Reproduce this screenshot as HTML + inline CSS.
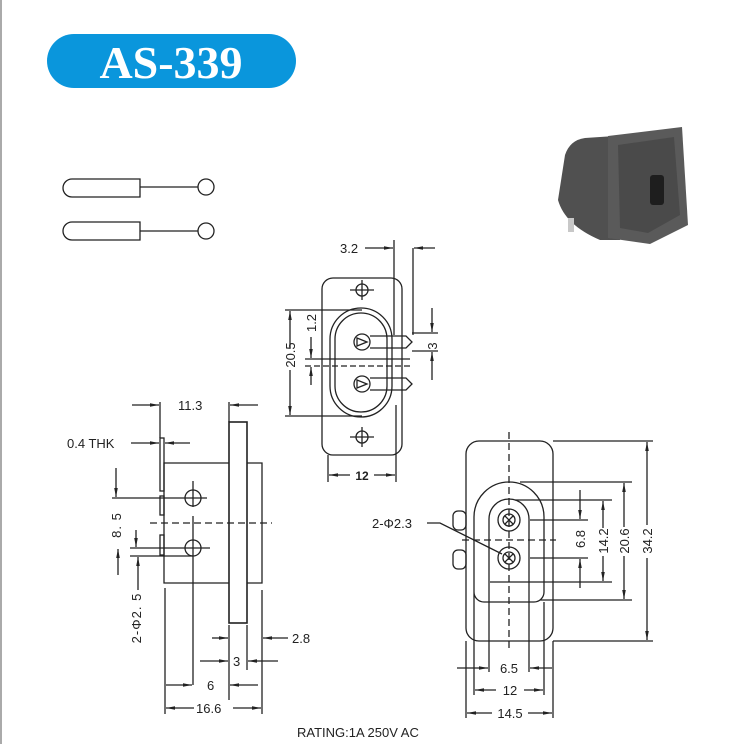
<!DOCTYPE html>
<html><head><style>
body{margin:0;background:#fff;}
svg{display:block;}
text{font-family:"Liberation Sans",sans-serif;font-size:13px;fill:#222;}
</style></head><body>
<svg width="735" height="744" viewBox="0 0 735 744" xmlns="http://www.w3.org/2000/svg">
<defs>
<marker id="a" viewBox="0 0 10 10" refX="10" refY="5" markerWidth="7" markerHeight="7" orient="auto-start-reverse"><path d="M0,3 L10,5 L0,7 z" fill="#222"/></marker>
</defs>
<line x1="1" y1="0" x2="1" y2="744" stroke="#aaa" stroke-width="2"/>
<!-- badge -->
<rect x="47" y="34" width="249" height="54" rx="27" fill="#0a96dc"/>
<text x="171" y="78" text-anchor="middle" style="font-family:'Liberation Serif',serif;font-size:46px;font-weight:bold;fill:#fff">AS-339</text>
<!-- symbols -->
<g fill="none" stroke="#222" stroke-width="1.3">
<path d="M72,179 H140 V197 H72 A9,9 0 0 1 72,179 Z"/><line x1="140" y1="187" x2="198" y2="187"/><circle cx="206" cy="187" r="8"/>
<path d="M72,222 H140 V240 H72 A9,9 0 0 1 72,222 Z"/><line x1="140" y1="231" x2="198" y2="231"/><circle cx="206" cy="231" r="8"/>
</g>
<!-- photo -->
<path d="M565,155 Q570,140 585,138 L615,136 L620,240 L600,240 Q565,225 558,200 Z" fill="#505050"/>
<polygon points="608,136 682,127 688,225 650,244 608,238" fill="#5a5a5a"/>
<polygon points="618,145 674,137 680,215 648,233 620,228" fill="#4a4a4a"/>
<rect x="650" y="175" width="14" height="30" rx="3" fill="#1e1e1e"/>
<rect x="568" y="218" width="6" height="14" fill="#c8c8c8"/>
<g fill="none" stroke="#222" stroke-width="1.3">
<!-- front view -->
<rect x="322" y="278" width="80" height="177" rx="11"/>
<rect x="330" y="308" width="62" height="109" rx="31"/>
<rect x="335" y="313" width="52" height="99" rx="26"/>
<circle cx="362" cy="342" r="8"/><circle cx="362" cy="384" r="8"/>
<polygon points="357,338 367,342 357,346"/><polygon points="357,380 367,384 357,388"/>
<circle cx="362" cy="290" r="6"/><circle cx="362" cy="437" r="6"/>
<path d="M370,336 H406 L412,342 L406,348 H370"/>
<path d="M370,378 H406 L412,384 L406,390 H370"/>
<line x1="350" y1="290" x2="374" y2="290"/><line x1="362" y1="280" x2="362" y2="300"/>
<line x1="350" y1="437" x2="374" y2="437"/><line x1="362" y1="427" x2="362" y2="447"/>
<line x1="305" y1="359" x2="410" y2="359"/><line x1="305" y1="366" x2="410" y2="366" stroke-dasharray="6,3"/>
<line x1="394" y1="240" x2="394" y2="335"/><line x1="413" y1="248" x2="413" y2="335"/>
<line x1="365" y1="248" x2="393" y2="248" marker-end="url(#a)"/><line x1="435" y1="248" x2="414" y2="248" marker-end="url(#a)"/>
<line x1="285" y1="310" x2="362" y2="310"/><line x1="285" y1="416" x2="362" y2="416"/>
<line x1="290" y1="348" x2="290" y2="311" marker-end="url(#a)"/><line x1="290" y1="370" x2="290" y2="415" marker-end="url(#a)"/>
<line x1="311" y1="337" x2="311" y2="358" marker-end="url(#a)"/><line x1="311" y1="385" x2="311" y2="367" marker-end="url(#a)"/>
<line x1="412" y1="333" x2="438" y2="333"/><line x1="412" y1="351" x2="438" y2="351"/>
<line x1="432" y1="308" x2="432" y2="332" marker-end="url(#a)"/><line x1="432" y1="380" x2="432" y2="352" marker-end="url(#a)"/>
<line x1="328" y1="455" x2="328" y2="482"/><line x1="396" y1="405" x2="396" y2="482"/>
<line x1="350" y1="475" x2="329" y2="475" marker-end="url(#a)"/><line x1="374" y1="475" x2="395" y2="475" marker-end="url(#a)"/>
<!-- side view -->
<rect x="229" y="422" width="18" height="201" stroke-width="1.6"/>
<polyline points="229,463 164,463 164,583 229,583"/><polyline points="247,463 262,463 262,583 247,583"/>
<rect x="160" y="438" width="4" height="53"/><rect x="160" y="496" width="4" height="19"/><rect x="160" y="535" width="4" height="20"/>
<circle cx="193" cy="498" r="8"/><circle cx="193" cy="548" r="8"/>
<line x1="193" y1="481" x2="193" y2="507"/><line x1="193" y1="516" x2="193" y2="685"/>
<line x1="150" y1="523" x2="272" y2="523" stroke-dasharray="7,4"/>
<line x1="112" y1="498" x2="207" y2="498"/><line x1="130" y1="548" x2="210" y2="548"/><line x1="130" y1="556" x2="193" y2="556"/>
<line x1="160" y1="402" x2="160" y2="438"/><line x1="229" y1="402" x2="229" y2="422"/>
<line x1="132" y1="405" x2="159" y2="405" marker-end="url(#a)"/><line x1="258" y1="405" x2="230" y2="405" marker-end="url(#a)"/>
<line x1="131" y1="443" x2="159" y2="443" marker-end="url(#a)"/><line x1="190" y1="443" x2="165" y2="443" marker-end="url(#a)"/>
<line x1="116" y1="468" x2="116" y2="497" marker-end="url(#a)"/><line x1="118" y1="575" x2="118" y2="549" marker-end="url(#a)"/>
<line x1="138" y1="590" x2="138" y2="557" marker-end="url(#a)"/><line x1="136" y1="530" x2="136" y2="547" marker-end="url(#a)"/>
<line x1="165" y1="588" x2="165" y2="714"/><line x1="262" y1="590" x2="262" y2="714"/>
<line x1="229" y1="625" x2="229" y2="700"/><line x1="247" y1="625" x2="247" y2="670"/>
<line x1="212" y1="638" x2="228" y2="638" marker-end="url(#a)"/><line x1="288" y1="638" x2="263" y2="638" marker-end="url(#a)"/>
<line x1="200" y1="661" x2="228" y2="661" marker-end="url(#a)"/><line x1="278" y1="661" x2="248" y2="661" marker-end="url(#a)"/>
<line x1="166" y1="685" x2="192" y2="685" marker-end="url(#a)"/><line x1="258" y1="685" x2="230" y2="685" marker-end="url(#a)"/>
<line x1="194" y1="708" x2="166" y2="708" marker-end="url(#a)"/><line x1="233" y1="708" x2="261" y2="708" marker-end="url(#a)"/>
<!-- right view -->
<rect x="466" y="441" width="87" height="200" rx="13"/>
<path d="M474,602 V517 A35,35 0 0 1 544,517 V592 A10,10 0 0 1 534,602 H484 A10,10 0 0 1 474,592 Z"/>
<path d="M489,582 V519 A20,20 0 0 1 529,519 V582"/>
<rect x="453" y="511" width="13" height="19" rx="5"/><rect x="453" y="550" width="13" height="19" rx="5"/>
<circle cx="509" cy="520" r="11"/><circle cx="509" cy="520" r="6"/><circle cx="509" cy="558" r="11"/><circle cx="509" cy="558" r="6"/>
<path d="M505,516 L513,524 M513,516 L505,524 M505,554 L513,562 M513,554 L505,562"/>
<line x1="509" y1="432" x2="509" y2="650" stroke-dasharray="7,4"/>
<line x1="462" y1="540" x2="556" y2="540" stroke-dasharray="7,4"/>
<line x1="553" y1="441" x2="653" y2="441"/><line x1="553" y1="641" x2="653" y2="641"/>
<line x1="520" y1="482" x2="632" y2="482"/><line x1="540" y1="600" x2="632" y2="600"/>
<line x1="515" y1="500" x2="612" y2="500"/><line x1="490" y1="582" x2="612" y2="582"/>
<line x1="530" y1="520" x2="588" y2="520"/><line x1="530" y1="558" x2="588" y2="558"/>
<line x1="647" y1="525" x2="647" y2="442" marker-end="url(#a)"/><line x1="647" y1="558" x2="647" y2="640" marker-end="url(#a)"/>
<line x1="624" y1="527" x2="624" y2="483" marker-end="url(#a)"/><line x1="624" y1="556" x2="624" y2="599" marker-end="url(#a)"/>
<line x1="603" y1="528" x2="603" y2="501" marker-end="url(#a)"/><line x1="603" y1="556" x2="603" y2="581" marker-end="url(#a)"/>
<line x1="580" y1="490" x2="580" y2="519" marker-end="url(#a)"/><line x1="580" y1="588" x2="580" y2="559" marker-end="url(#a)"/>
<path d="M427,523 H440 L502,554"/>
<line x1="466" y1="641" x2="466" y2="718"/><line x1="553" y1="641" x2="553" y2="718"/>
<line x1="474" y1="602" x2="474" y2="695"/><line x1="544" y1="602" x2="544" y2="695"/>
<line x1="489" y1="582" x2="489" y2="672"/><line x1="529" y1="582" x2="529" y2="672"/>
<line x1="457" y1="668" x2="488" y2="668" marker-end="url(#a)"/><line x1="552" y1="668" x2="530" y2="668" marker-end="url(#a)"/>
<line x1="496" y1="690" x2="475" y2="690" marker-end="url(#a)"/><line x1="524" y1="690" x2="543" y2="690" marker-end="url(#a)"/>
<line x1="492" y1="713" x2="467" y2="713" marker-end="url(#a)"/><line x1="528" y1="713" x2="552" y2="713" marker-end="url(#a)"/>
</g>
<!-- labels -->
<text x="340" y="253">3.2</text>
<text x="362" y="480" text-anchor="middle" style="font-size:12px;font-weight:bold">12</text>
<text transform="translate(295,355) rotate(-90)" text-anchor="middle">20.5</text>
<text transform="translate(316,323) rotate(-90)" text-anchor="middle">1.2</text>
<text transform="translate(437,346) rotate(-90)" text-anchor="middle">3</text>
<text x="178" y="410">11.3</text>
<text x="67" y="448">0.4 THK</text>
<text transform="translate(121,525) rotate(-90)" text-anchor="middle" style="letter-spacing:1px">8. 5</text>
<text transform="translate(141,618) rotate(-90)" text-anchor="middle" style="letter-spacing:1px">2-Φ2. 5</text>
<text x="292" y="643">2.8</text>
<text x="233" y="666">3</text>
<text x="207" y="690">6</text>
<text x="196" y="713">16.6</text>
<text x="372" y="528">2-Φ2.3</text>
<text transform="translate(585,539) rotate(-90)" text-anchor="middle">6.8</text>
<text transform="translate(608,541) rotate(-90)" text-anchor="middle">14.2</text>
<text transform="translate(629,541) rotate(-90)" text-anchor="middle">20.6</text>
<text transform="translate(652,541) rotate(-90)" text-anchor="middle">34.2</text>
<text x="509" y="673" text-anchor="middle">6.5</text>
<text x="510" y="695" text-anchor="middle">12</text>
<text x="510" y="718" text-anchor="middle">14.5</text>
<text x="297" y="737">RATING:1A 250V AC</text>
</svg>
</body></html>
